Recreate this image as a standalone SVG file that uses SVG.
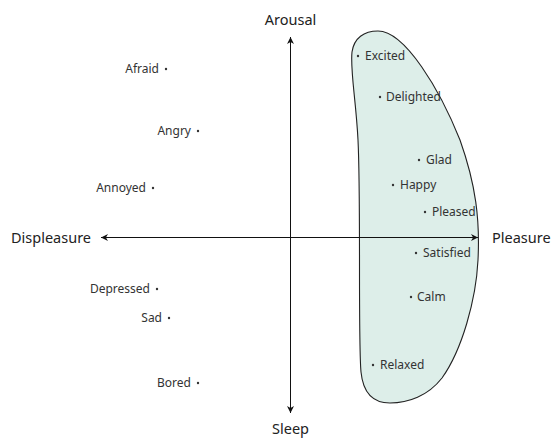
<svg xmlns="http://www.w3.org/2000/svg" width="552" height="440" viewBox="0 0 552 440">
<style>
.lbl{font-family:"Noto Sans","Liberation Sans",sans-serif;font-size:12px;fill:#333}
.ax{font-family:"Noto Sans","Liberation Sans",sans-serif;font-size:14.5px;fill:#222}
.dot{fill:#333}
.axis{stroke:#111;stroke-width:1;fill:none}
</style>
<defs>
<marker id="ah" viewBox="0 0 10 10" refX="10" refY="5" markerWidth="8" markerHeight="7" markerUnits="userSpaceOnUse" orient="auto">
<path d="M0,0 L10,5 L0,10 L3,5 Z" fill="#111"/>
</marker>
</defs>
<rect width="552" height="440" fill="#fff"/>
<g id="region">
<path d="M 378,31 C 405,31 440,90 460,140 C 476,185 480,220 478,260 C 476,300 462,350 442,378 C 428,396 408,403 390,403 C 372,403 363,392 361,372 C 358,340 361,200 358,140 C 356,100 350,70 352,52 C 354,38 364,31 378,31 Z" fill="#ddeee9" stroke="#222" stroke-width="1.1"/>
</g>
<g id="connectors">
<line class="axis" x1="290.5" y1="413" x2="290.5" y2="37" marker-end="url(#ah)"/>
<line class="axis" x1="290.5" y1="37" x2="290.5" y2="413" marker-end="url(#ah)"/>
<line class="axis" x1="101" y1="237.5" x2="478" y2="237.5" marker-end="url(#ah)"/>
<line class="axis" x1="478" y1="237.5" x2="101" y2="237.5" marker-end="url(#ah)"/>
</g>
<g id="arousal"><text class="ax" x="290.5" y="25" text-anchor="middle">Arousal</text></g>
<g id="sleep"><text class="ax" x="290.5" y="434" text-anchor="middle">Sleep</text></g>
<g id="displeasure"><text class="ax" x="11" y="243">Displeasure</text></g>
<g id="pleasure"><text class="ax" x="492" y="243">Pleasure</text></g>
<g id="excited"><circle class="dot" cx="358" cy="56" r="1.2"/><text class="lbl" x="365" y="60">Excited</text></g>
<g id="delighted"><circle class="dot" cx="380" cy="97" r="1.2"/><text class="lbl" x="386" y="101">Delighted</text></g>
<g id="glad"><circle class="dot" cx="419" cy="160" r="1.2"/><text class="lbl" x="426" y="164">Glad</text></g>
<g id="happy"><circle class="dot" cx="393" cy="185" r="1.2"/><text class="lbl" x="400" y="189">Happy</text></g>
<g id="pleased"><circle class="dot" cx="425" cy="212" r="1.2"/><text class="lbl" x="432" y="216">Pleased</text></g>
<g id="satisfied"><circle class="dot" cx="416" cy="253" r="1.2"/><text class="lbl" x="423" y="257">Satisfied</text></g>
<g id="calm"><circle class="dot" cx="411" cy="297" r="1.2"/><text class="lbl" x="417" y="301">Calm</text></g>
<g id="relaxed"><circle class="dot" cx="373" cy="365" r="1.2"/><text class="lbl" x="380" y="369">Relaxed</text></g>
<g id="afraid"><circle class="dot" cx="166" cy="69" r="1.2"/><text class="lbl" x="159" y="73" text-anchor="end">Afraid</text></g>
<g id="angry"><circle class="dot" cx="198" cy="131" r="1.2"/><text class="lbl" x="191" y="135" text-anchor="end">Angry</text></g>
<g id="annoyed"><circle class="dot" cx="153" cy="188" r="1.2"/><text class="lbl" x="146" y="192" text-anchor="end">Annoyed</text></g>
<g id="depressed"><circle class="dot" cx="157" cy="289" r="1.2"/><text class="lbl" x="150" y="293" text-anchor="end">Depressed</text></g>
<g id="sad"><circle class="dot" cx="169" cy="318" r="1.2"/><text class="lbl" x="162" y="322" text-anchor="end">Sad</text></g>
<g id="bored"><circle class="dot" cx="198" cy="383" r="1.2"/><text class="lbl" x="191" y="387" text-anchor="end">Bored</text></g>
</svg>
